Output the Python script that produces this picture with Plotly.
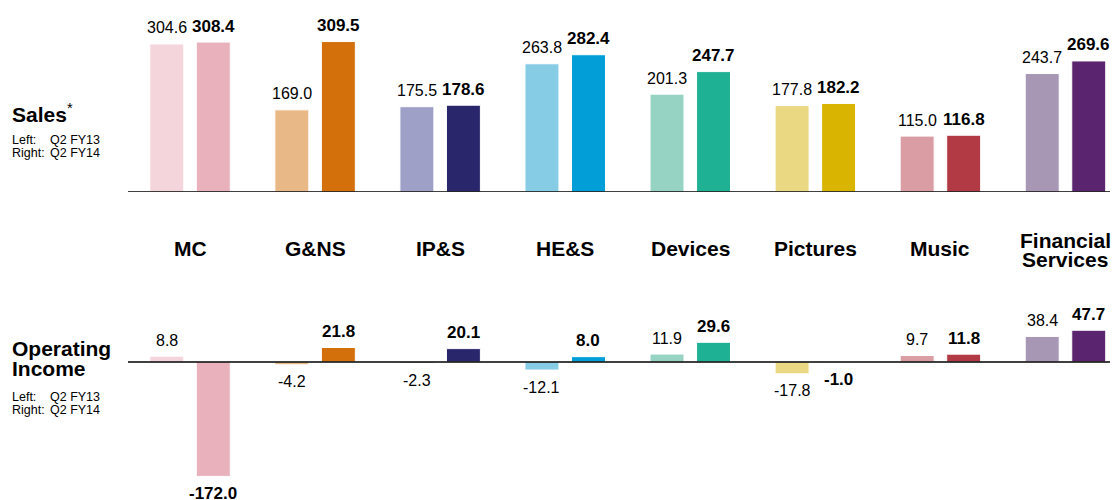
import plotly.graph_objects as go

categories = ["MC", "G&NS", "IP&S", "HE&S", "Devices", "Pictures", "Music", "Financial<br>Services"]
sales_fy13 = [304.6, 169.0, 175.5, 263.8, 201.3, 177.8, 115.0, 243.7]
sales_fy14 = [308.4, 309.5, 178.6, 282.4, 247.7, 182.2, 116.8, 269.6]
oi_fy13 = [8.8, -4.2, -2.3, -12.1, 11.9, -17.8, 9.7, 38.4]
oi_fy14 = [-172.0, 21.8, 20.1, 8.0, 29.6, -1.0, 11.8, 47.7]

colors_fy13 = ["#F4D5DC", "#E9B887", "#9FA0C8", "#85CCE4", "#96D3C3", "#EAD883", "#D99DA3", "#A797B5"]
colors_fy14 = ["#E8B1BC", "#D4700C", "#2A266B", "#019ED8", "#1FB193", "#D9B400", "#B23A45", "#5A246E"]

FONT = "Arial, Liberation Sans, sans-serif"
W, H = 1119, 500
xs = list(range(len(categories)))
off = 0.186

fig = go.Figure()
for vals, cols in [(sales_fy13, colors_fy13), (sales_fy14, colors_fy14)]:
    fig.add_trace(go.Bar(x=xs, y=vals, marker=dict(color=cols, line=dict(color="white", width=1)),
                         xaxis="x", yaxis="y", showlegend=False, hoverinfo="skip"))
for vals, cols in [(oi_fy13, colors_fy13), (oi_fy14, colors_fy14)]:
    fig.add_trace(go.Bar(x=xs, y=vals, marker=dict(color=cols, line=dict(color="white", width=1)),
                         xaxis="x2", yaxis="y2", showlegend=False, hoverinfo="skip"))

ann = []
def val_labels(v13, v14, xref, yref):
    for i in xs:
        for v, dx, bold in [(v13[i], -off, False), (v14[i], off, True)]:
            txt = f"{v:.1f}"
            if bold:
                txt = "<b>" + txt + "</b>"
            ann.append(dict(x=i + dx, y=v, xref=xref, yref=yref, text=txt, showarrow=False,
                            yanchor="middle", xanchor="center",
                            yshift=16 if v >= 0 else -17,
                            font=dict(family=FONT, size=17 if bold else 16, color="black")))

val_labels(sales_fy13, sales_fy14, "x", "y")
val_labels(oi_fy13, oi_fy14, "x2", "y2")

for i, c in enumerate(categories):
    lines = c.split("<br>")
    if len(lines) == 1:
        ys = [248]
    else:
        ys = [240, 259]
    for line, yy in zip(lines, ys):
        ann.append(dict(x=i, y=1 - yy / H, xref="x", yref="paper", text="<b>" + line + "</b>",
                        showarrow=False, xanchor="center", yanchor="middle",
                        font=dict(family=FONT, size=21, color="black")))

def left_block(titles, tys, ly):
    for t, ty in zip(titles, tys):
        ann.append(dict(x=10 / W, y=1 - ty / H, xref="paper", yref="paper", text=t, showarrow=False,
                        xanchor="left", yanchor="middle", align="left",
                        font=dict(family=FONT, size=21, color="black")))
    for lab, val, yy in [("Left:", "Q2 FY13", ly), ("Right:", "Q2 FY14", ly + 13)]:
        ann.append(dict(x=10 / W, y=1 - yy / H, xref="paper", yref="paper", text=lab, showarrow=False,
                        xanchor="left", yanchor="middle", font=dict(family=FONT, size=12.5, color="black")))
        ann.append(dict(x=48 / W, y=1 - yy / H, xref="paper", yref="paper", text=val, showarrow=False,
                        xanchor="left", yanchor="middle", font=dict(family=FONT, size=12.5, color="black")))

left_block(["<b>Sales</b><sup>*</sup>"], [113], 140)
left_block(["<b>Operating</b>", "<b>Income</b>"], [348, 368], 397)

xdom = [128 / W, 1110 / W]
xr = [-0.496, 7.356]
shapes = [
    dict(type="line", xref="x domain", yref="y", x0=0, x1=1, y0=0, y1=0, line=dict(color="black", width=1.5)),
    dict(type="line", xref="x2 domain", yref="y2", x0=0, x1=1, y0=0, y1=0, line=dict(color="black", width=1.5)),
]

fig.update_layout(
    width=W, height=H, margin=dict(l=0, r=0, t=0, b=0),
    paper_bgcolor="white", plot_bgcolor="white",
    barmode="group", bargap=0.256, bargroupgap=0.27,
    xaxis=dict(domain=xdom, range=xr, visible=False, fixedrange=True),
    xaxis2=dict(domain=xdom, range=xr, visible=False, anchor="y2", fixedrange=True),
    yaxis=dict(domain=[1 - 192 / H, 1], range=[0, 395], visible=False, fixedrange=True),
    yaxis2=dict(domain=[0, 0.4], range=[-207.5, 93.2], visible=False, anchor="x2", fixedrange=True),
    annotations=ann, shapes=shapes,
)
fig.write_html("out.html", config={"displayModeBar": False},
               post_script="document.body.style.margin='0';document.body.style.overflow='hidden';")
